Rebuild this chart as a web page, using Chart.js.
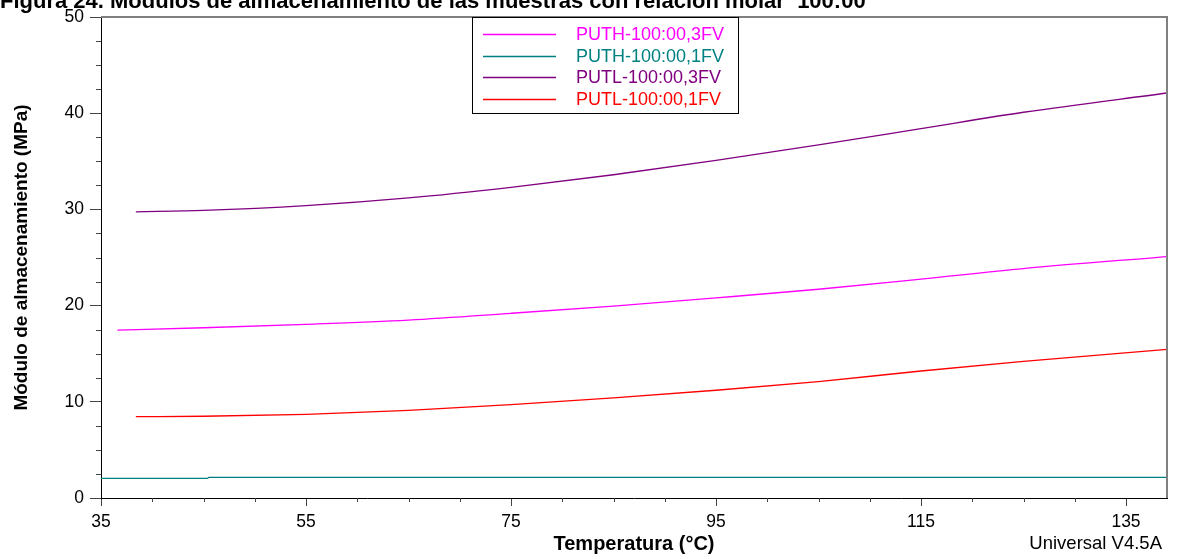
<!DOCTYPE html>
<html>
<head>
<meta charset="utf-8">
<script src="https://cdn.jsdelivr.net/npm/chart.js@4"></script>
<style>
  html, body { margin: 0; padding: 0; background: #fff; }
  #wrap { width: 1178px; height: 559px; }
</style>
</head>
<body>
<div id="wrap"><canvas id="chart" width="1178" height="559"></canvas></div>
<script>
// values
const titleText = 'Figura 24. Módulos de almacenamiento de las muestras con relación molar  100:00';
const xTicks = [35, 55, 75, 95, 115, 135];
const yTicks = [0, 10, 20, 30, 40, 50];

const puth3Temp = [36.6, 45, 55, 65, 75, 85, 95, 105, 115, 125, 139];
const puth3Mod  = [17.45, 17.7, 18.05, 18.5, 19.2, 19.95, 20.8, 21.7, 22.75, 23.85, 25.1];

const puth1Temp = [35, 45.4, 45.5, 139];
const puth1Mod  = [2.05, 2.05, 2.15, 2.15];

const putl3Temp = [38.4, 45, 55, 65, 75, 85, 95, 105, 115, 125, 139];
const putl3Mod  = [29.75, 29.9, 30.4, 31.2, 32.3, 33.6, 35.1, 36.7, 38.4, 40.1, 42.1];

const putl1Temp = [38.4, 45, 55, 65, 75, 85, 95, 105, 115, 125, 139];
const putl1Mod  = [8.45, 8.5, 8.7, 9.1, 9.7, 10.4, 11.2, 12.1, 13.2, 14.2, 15.45];

const seriesNames = ['PUTH-100:00,3FV', 'PUTH-100:00,1FV', 'PUTL-100:00,3FV', 'PUTL-100:00,1FV'];
const seriesColors = ['#ff00ff', '#008080', '#800080', '#ff0000'];

function pts(xs, ys) { return xs.map((x, i) => ({ x: x, y: ys[i] })); }

const allData = [
  pts(puth3Temp, puth3Mod),
  pts(puth1Temp, puth1Mod),
  pts(putl3Temp, putl3Mod),
  pts(putl1Temp, putl1Mod)
];

const FONT = 'Arial, "Liberation Sans", sans-serif';

// frame, minor ticks, legend box and the other texts
const extras = {
  id: 'extras',
  beforeDraw(chart) {
    const c = chart.ctx;
    c.save();
    c.fillStyle = '#fff';
    c.fillRect(0, 0, chart.width, chart.height);
    c.restore();
  },
  afterDraw(chart) {
    const c = chart.ctx;
    const a = chart.chartArea;
    const xs = chart.scales.x, ys = chart.scales.y;
    c.save();

    // gray frame top and right
    c.strokeStyle = '#808080';
    c.lineWidth = 2;
    c.beginPath();
    c.moveTo(a.left, a.top);
    c.lineTo(a.right, a.top);
    c.lineTo(a.right, a.bottom);
    c.stroke();

    // minor ticks
    c.strokeStyle = '#444';
    c.lineWidth = 1;
    c.beginPath();
    for (let v = 40; v < xs.max; v += 5) {
      if (xTicks.includes(v)) continue;
      const px = Math.round(xs.getPixelForValue(v)) + 0.5;
      c.moveTo(px, a.bottom);
      c.lineTo(px, a.bottom + 4);
    }
    for (let v = 2.5; v < 50; v += 2.5) {
      if (yTicks.includes(v)) continue;
      const py = Math.round(ys.getPixelForValue(v)) + 0.5;
      c.moveTo(a.left, py);
      c.lineTo(a.left - 5, py);
    }
    c.stroke();

    // legend
    const lx = 472, ly = 17, lw = 266, lh = 96;
    c.fillStyle = '#fff';
    c.fillRect(lx, ly, lw, lh);
    c.strokeStyle = '#000';
    c.lineWidth = 1;
    c.strokeRect(lx + 0.5, ly + 0.5, lw, lh);
    c.font = '18px ' + FONT;
    c.textBaseline = 'middle';
    chart.data.datasets.forEach((ds, i) => {
      const ry = 34 + i * 21.6;
      c.strokeStyle = ds.borderColor;
      c.lineWidth = 1.5;
      c.beginPath();
      c.moveTo(483, Math.round(ry) + 0.5);
      c.lineTo(556, Math.round(ry) + 0.5);
      c.stroke();
      c.fillStyle = ds.borderColor;
      c.fillText(ds.label, 576, ry + 1);
    });

    // title (clipped at the top like the original)
    c.fillStyle = '#000';
    c.font = 'bold 22px ' + FONT;
    c.textBaseline = 'alphabetic';
    c.textAlign = 'left';
    c.fillText(titleText, 0, 8);

    // footer
    c.font = '18.5px ' + FONT;
    c.textAlign = 'right';
    c.textBaseline = 'middle';
    c.fillText('Universal V4.5A', 1162, 544);
    c.restore();
  }
};

new Chart(document.getElementById('chart'), {
  type: 'scatter',
  data: {
    datasets: seriesNames.map((name, i) => ({
      label: name,
      data: allData[i],
      showLine: true,
      borderColor: seriesColors[i],
      backgroundColor: seriesColors[i],
      borderWidth: 1.3,
      pointRadius: 0,
      cubicInterpolationMode: 'monotone',
      fill: false
    }))
  },
  options: {
    responsive: false,
    animation: false,
    events: [],
    layout: { padding: { left: 0, right: 11, top: 17, bottom: 0 } },
    plugins: {
      legend: { display: false },
      tooltip: { enabled: false }
    },
    scales: {
      x: {
        type: 'linear',
        min: 35,
        max: 139,
        afterBuildTicks(scale) { scale.ticks = xTicks.map(v => ({ value: v })); },
        afterFit(scale) { scale.height = 61; },
        grid: { drawOnChartArea: false, drawTicks: true, tickLength: 8, color: '#444', tickWidth: 1 },
        border: { display: true, color: '#000', width: 1 },
        ticks: { color: '#000', font: { size: 17.5, family: FONT }, padding: 6, maxRotation: 0, autoSkip: false },
        title: { display: true, text: 'Temperatura (°C)', color: '#000', font: { size: 20, weight: 'bold', family: FONT }, padding: { top: 0, bottom: 3 } }
      },
      y: {
        type: 'linear',
        min: 0,
        max: 50,
        afterBuildTicks(scale) { scale.ticks = yTicks.map(v => ({ value: v })); },
        afterFit(scale) { scale.width = 101; },
        grid: { drawOnChartArea: false, drawTicks: true, tickLength: 11, color: '#444', tickWidth: 1 },
        border: { display: true, color: '#000', width: 1 },
        ticks: { color: '#000', font: { size: 17.5, family: FONT }, padding: 6 },
        title: { display: true, text: 'Módulo de almacenamiento (MPa)', color: '#000', font: { size: 19, weight: 'bold', family: FONT }, padding: { top: 10, bottom: 0 } }
      }
    }
  },
  plugins: [extras]
});
</script>
</body>
</html>
